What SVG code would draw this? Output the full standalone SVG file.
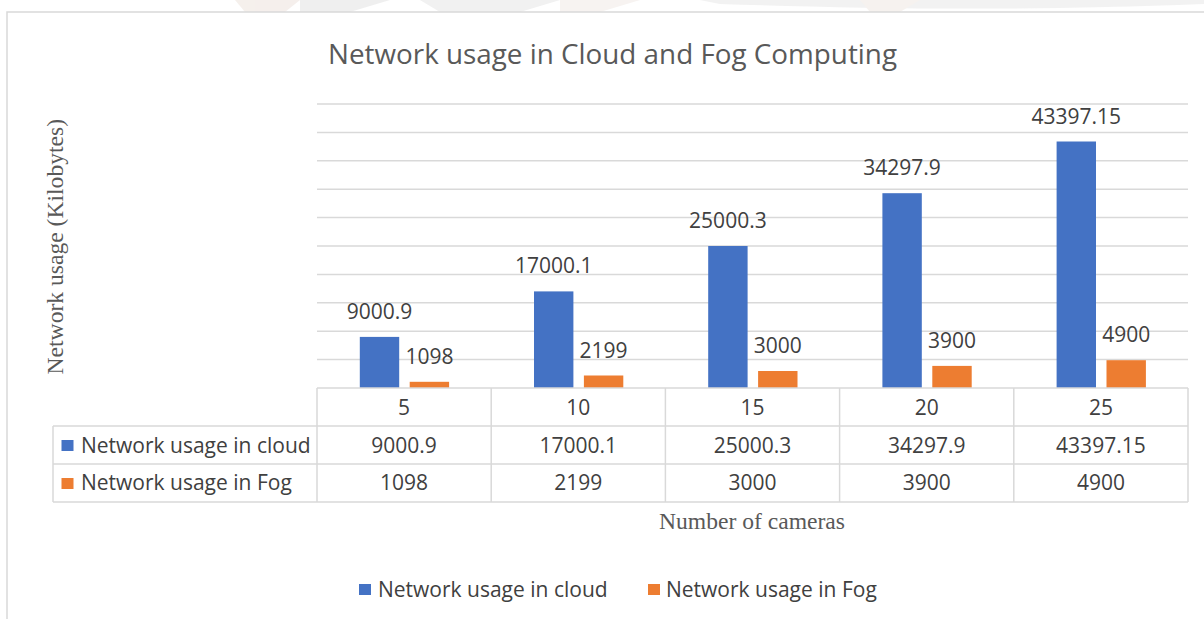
<svg xmlns="http://www.w3.org/2000/svg" width="1204" height="619" viewBox="0 0 1204 619">
  <style>
    .grid { stroke: #d9d9d9; stroke-width: 1.5; fill: none; }
    .frame { stroke: #d9d9d9; stroke-width: 1.5; fill: none; }
    .cloud { fill: #4472c4; }
    .fog { fill: #ed7d31; }
    .lbl { font-family: "Open Sans", "Liberation Sans", sans-serif; font-size: 21px; fill: #404040; text-anchor: middle; }
    .leg { font-family: "Open Sans", "Liberation Sans", sans-serif; font-size: 21px; fill: #404040; }
    .title { font-family: "Open Sans", "Liberation Sans", sans-serif; font-size: 28px; fill: #595959; }
    .axis { font-family: "Liberation Serif", "DejaVu Serif", serif; font-size: 23.6px; fill: #595959; text-anchor: middle; }
  </style>
  <defs>
    <clipPath id="strip"><rect x="0" y="0" width="1204" height="12"/></clipPath>
  </defs>

  <!-- page background with faint logo showing above the chart frame -->
  <rect width="1204" height="619" fill="#ffffff"/>
  <g clip-path="url(#strip)" opacity="0.6">
    <path d="M235,0 L300,0 L285,12 L245,12 Z" fill="#efe6e0"/>
    <path d="M300,0 L390,0 L350,12 L300,12 Z" fill="#e6e6e6"/>
    <path d="M420,0 L560,0 L520,12 L440,12 Z" fill="#e8e8e8"/>
    <path d="M560,0 L640,0 L600,12 L560,12 Z" fill="#f2ece8"/>
    <path d="M700,0 L1204,0 L1204,4 C1000,12 860,8 720,4 Z" fill="#eaeaea"/>
    <path d="M860,0 L920,0 L900,12 L870,12 Z" fill="#f1ebe6"/>
  </g>
  <rect x="7" y="12" width="1204" height="620" fill="#ffffff" class="frame"/>

  <!-- title -->
  <g id="title">
    <text class="title" x="328" y="64" textLength="569" lengthAdjust="spacingAndGlyphs">Network usage in Cloud and Fog Computing</text>
  </g>

  <!-- horizontal gridlines, 5000 per step -->
  <g id="gridlines">
    <line class="grid" x1="317" y1="104" x2="1188" y2="104"/>
    <line class="grid" x1="317" y1="132.4" x2="1188" y2="132.4"/>
    <line class="grid" x1="317" y1="160.8" x2="1188" y2="160.8"/>
    <line class="grid" x1="317" y1="189.2" x2="1188" y2="189.2"/>
    <line class="grid" x1="317" y1="217.6" x2="1188" y2="217.6"/>
    <line class="grid" x1="317" y1="246" x2="1188" y2="246"/>
    <line class="grid" x1="317" y1="274.4" x2="1188" y2="274.4"/>
    <line class="grid" x1="317" y1="302.8" x2="1188" y2="302.8"/>
    <line class="grid" x1="317" y1="331.2" x2="1188" y2="331.2"/>
    <line class="grid" x1="317" y1="359.6" x2="1188" y2="359.6"/>
  </g>

  <!-- bars -->
  <g id="cat-5">
    <rect class="cloud" x="359.8" y="336.9" width="39.4" height="51.1"/>
    <rect class="fog" x="409.7" y="381.8" width="39.4" height="6.2"/>
    <text class="lbl" x="379.5" y="318.9">9000.9</text>
    <text class="lbl" x="429.4" y="363.8">1098</text>
  </g>
  <g id="cat-10">
    <rect class="cloud" x="534" y="291.4" width="39.4" height="96.6"/>
    <rect class="fog" x="583.9" y="375.5" width="39.4" height="12.5"/>
    <text class="lbl" x="553.7" y="273.4">17000.1</text>
    <text class="lbl" x="603.6" y="357.5">2199</text>
  </g>
  <g id="cat-15">
    <rect class="cloud" x="708.2" y="246" width="39.4" height="142"/>
    <rect class="fog" x="758.1" y="371" width="39.4" height="17"/>
    <text class="lbl" x="727.9" y="228">25000.3</text>
    <text class="lbl" x="777.8" y="353">3000</text>
  </g>
  <g id="cat-20">
    <rect class="cloud" x="882.4" y="193.2" width="39.4" height="194.8"/>
    <rect class="fog" x="932.3" y="365.9" width="39.4" height="22.1"/>
    <text class="lbl" x="902.1" y="175.2">34297.9</text>
    <text class="lbl" x="952" y="347.9">3900</text>
  </g>
  <g id="cat-25">
    <rect class="cloud" x="1056.6" y="141.5" width="39.4" height="246.5"/>
    <rect class="fog" x="1106.5" y="360.2" width="39.4" height="27.8"/>
    <text class="lbl" x="1076.3" y="123.5">43397.15</text>
    <text class="lbl" x="1126.2" y="342.2">4900</text>
  </g>

  <!-- data table under the axis -->
  <g id="data-table">
    <line class="grid" x1="317" y1="388" x2="1188" y2="388"/>
    <line class="grid" x1="53" y1="426" x2="1188" y2="426"/>
    <line class="grid" x1="53" y1="464" x2="1188" y2="464"/>
    <line class="grid" x1="53" y1="502" x2="1188" y2="502"/>
    <line class="grid" x1="53" y1="426" x2="53" y2="502"/>
    <line class="grid" x1="317" y1="388" x2="317" y2="502"/>
    <line class="grid" x1="491.2" y1="388" x2="491.2" y2="502"/>
    <line class="grid" x1="665.4" y1="388" x2="665.4" y2="502"/>
    <line class="grid" x1="839.6" y1="388" x2="839.6" y2="502"/>
    <line class="grid" x1="1013.8" y1="388" x2="1013.8" y2="502"/>
    <line class="grid" x1="1188" y1="388" x2="1188" y2="502"/>

    <text class="lbl" x="404.1" y="414.5">5</text>
    <text class="lbl" x="578.3" y="414.5">10</text>
    <text class="lbl" x="752.5" y="414.5">15</text>
    <text class="lbl" x="926.7" y="414.5">20</text>
    <text class="lbl" x="1100.9" y="414.5">25</text>

    <rect class="cloud" x="61.5" y="440" width="12" height="11"/>
    <text class="leg" x="81" y="452.5">Network usage in cloud</text>
    <text class="lbl" x="404.1" y="452.5">9000.9</text>
    <text class="lbl" x="578.3" y="452.5">17000.1</text>
    <text class="lbl" x="752.5" y="452.5">25000.3</text>
    <text class="lbl" x="926.7" y="452.5">34297.9</text>
    <text class="lbl" x="1100.9" y="452.5">43397.15</text>

    <rect class="fog" x="61.5" y="478" width="12" height="11"/>
    <text class="leg" x="81" y="490">Network usage in Fog</text>
    <text class="lbl" x="404.1" y="490">1098</text>
    <text class="lbl" x="578.3" y="490">2199</text>
    <text class="lbl" x="752.5" y="490">3000</text>
    <text class="lbl" x="926.7" y="490">3900</text>
    <text class="lbl" x="1100.9" y="490">4900</text>
  </g>

  <!-- axis titles -->
  <g id="axis-titles">
    <text class="axis" x="752" y="529">Number of cameras</text>
    <text class="axis" transform="translate(63,246.7) rotate(-90)">Network usage (Kilobytes)</text>
  </g>

  <!-- legend -->
  <g id="legend">
    <rect class="cloud" x="359" y="584" width="12" height="11"/>
    <text class="leg" x="378" y="597">Network usage in cloud</text>
    <rect class="fog" x="648" y="584" width="12" height="11"/>
    <text class="leg" x="666" y="597">Network usage in Fog</text>
  </g>
</svg>
